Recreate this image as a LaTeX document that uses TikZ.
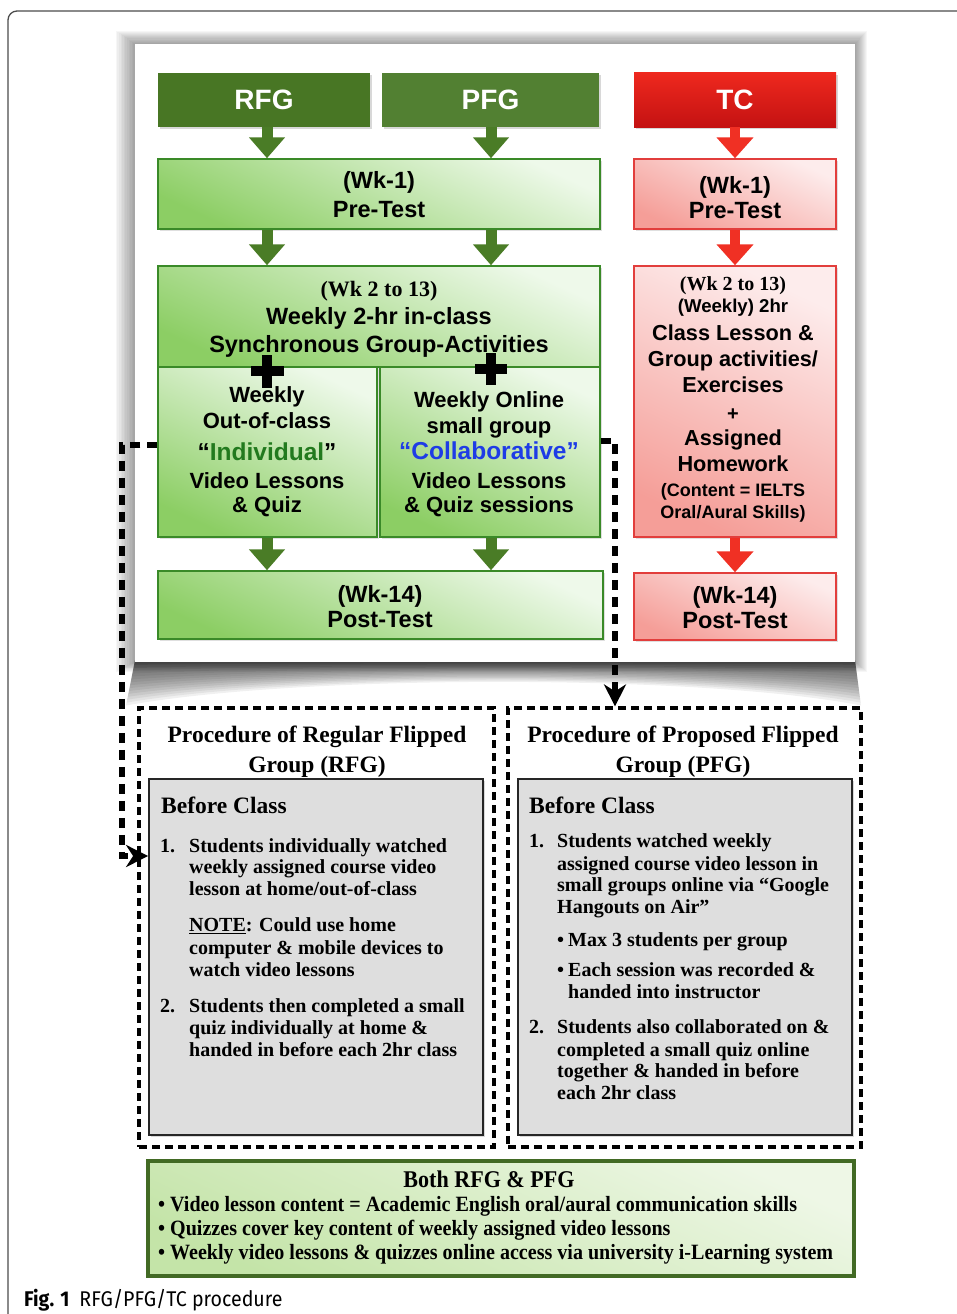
\documentclass[tikz,border=0pt]{standalone}
\usepackage{fontspec}
\setmainfont{Liberation Serif}
\setsansfont{Liberation Sans}
\newfontfamily\capfont[FakeStretch=0.92]{Fira Sans}
\newfontfamily\condserif[FakeStretch=0.92]{Liberation Serif}
\usetikzlibrary{arrows.meta,shadows}
\newcommand\SBf[1]{\fontsize{#1}{#1}\selectfont\sffamily\bfseries}
\newcommand\RBf[1]{\fontsize{#1}{#1}\selectfont\rmfamily\bfseries}
\definecolor{hdrgreen}{RGB}{72,118,36}
\definecolor{hdrgreenB}{RGB}{82,128,50}
\definecolor{arrgreen}{RGB}{74,124,38}
\definecolor{boxgreenD}{RGB}{140,206,100}
\definecolor{boxgreenL}{RGB}{238,249,234}
\definecolor{bordgreen}{RGB}{58,138,40}
\definecolor{tcred}{RGB}{238,40,30}
\definecolor{tcredD}{RGB}{196,18,18}
\definecolor{pinkL}{RGB}{253,236,236}
\definecolor{pinkD}{RGB}{245,158,152}
\definecolor{bordred}{RGB}{226,62,60}
\definecolor{arrred}{RGB}{240,48,36}
\definecolor{grayfill}{RGB}{222,222,222}
\definecolor{botgreenL}{RGB}{238,247,230}
\definecolor{botgreenD}{RGB}{196,228,168}
\definecolor{botbord}{RGB}{66,106,36}
\definecolor{indgreen}{RGB}{34,122,30}
\definecolor{colblue}{RGB}{30,60,230}
\begin{document}
\begin{tikzpicture}[x=1pt,y=-1pt,
  hdr/.style={inner sep=0pt, minimum height=54pt, text=white, font=\SBf{28},
    drop shadow={shadow xshift=1.5pt, shadow yshift=-2pt, opacity=0.3}},
  gbox/.style={draw=bordgreen, line width=1.5pt, top color=boxgreenL, bottom color=boxgreenD,
    shading angle=-25, inner sep=0pt,
    drop shadow={shadow xshift=1.5pt, shadow yshift=-1.5pt, opacity=0.25}},
  pbox/.style={draw=bordred, line width=1.5pt, top color=pinkL, bottom color=pinkD,
    shading angle=-25, inner sep=0pt,
    drop shadow={shadow xshift=1.5pt, shadow yshift=-1.5pt, opacity=0.25}},
  garrow/.style={draw=arrgreen, line width=11pt, -{Triangle[width=35pt,length=21pt]}},
  rarrow/.style={draw=arrred, line width=10pt, -{Triangle[width=36pt,length=21pt]}},
  stxt/.style={anchor=base, inner sep=0pt, font=\SBf{#1}},
  rtxt/.style={anchor=base, inner sep=0pt, font=\RBf{#1}},
  ltxt/.style={anchor=base west, inner sep=0pt, font=\RBf{#1}},
  dbox/.style={draw=black, line width=3.2pt, dash pattern=on 8pt off 5pt, inner sep=0pt},
  grbox/.style={draw=black!85, line width=1.8pt, fill=grayfill, inner sep=0pt,
    drop shadow={shadow xshift=1.5pt, shadow yshift=-1.5pt, opacity=0.3}},
  conn/.style={draw=black, line width=5.5pt, dash pattern=on 10pt off 7pt,
    -{Stealth[length=22pt,width=22pt,inset=7pt]}},
  btxt/.style={anchor=base west, inner sep=0pt, font=\fontsize{21.8}{21.8}\selectfont\condserif\bfseries}
]
\useasboundingbox (0,0) rectangle (956,1314);
% outer frame
\draw[black!70, line width=1.3pt, rounded corners=9pt] (8,1330) -- (8,11) -- (975,11);
% panel glow shadow
\foreach \i in {1,...,12}
  \fill[black, opacity=0.035] ({135-1.6*\i},{44-1.1*\i}) rectangle ({855+1.0*\i},{662+0.8*\i});
% curled bottom shadow
\foreach \i in {1,...,15}
  \fill[black, opacity=0.06] (135,660) -- (855,660) -- ({855+0.4*\i},{662+2.9*\i})
     .. controls (700,{662+0.8*\i}) and (300,{662+0.8*\i}) .. ({135-0.6*\i},{662+2.9*\i}) -- cycle;
% white panel
\fill[white] (135,44) rectangle (855,662);

% headers
\node[hdr, fill=hdrgreen, minimum width=212pt] (rfg) at (264,100) {RFG};
\node[hdr, fill=hdrgreenB, minimum width=217pt] (pfg) at (490.5,100) {PFG};
\node[hdr, top color=tcred, bottom color=tcredD, minimum width=202pt] (tc) at (735,100) {TC};

% green column boxes
\node[gbox, minimum width=442pt, minimum height=70pt] (preG) at (379,194) {};
\node[gbox, minimum width=442pt, minimum height=101pt] (wkG) at (379,316.5) {};
\node[gbox, minimum width=219pt, minimum height=170pt] (subL) at (267.5,452) {};
\node[gbox, minimum width=220pt, minimum height=170pt] (subR) at (490,452) {};
\node[gbox, minimum width=445pt, minimum height=68pt] (postG) at (380.5,605) {};
% TC column boxes
\node[pbox, minimum width=202pt, minimum height=70pt] (preT) at (735,194) {};
\node[pbox, minimum width=202pt, minimum height=271pt] (wkT) at (735,401.5) {};
\node[pbox, minimum width=202pt, minimum height=67pt] (postT) at (735,606.5) {};

% block arrows
\draw[garrow] (rfg.south -| 267,0) -- (preG.north -| 267,0);
\draw[garrow] (pfg.south -| 491,0) -- (preG.north -| 491,0);
\draw[garrow] (preG.south -| 267,0) -- (wkG.north -| 267,0);
\draw[garrow] (preG.south -| 491,0) -- (wkG.north -| 491,0);
\draw[garrow] (subL.south -| 267,0) -- (postG.north -| 267,0);
\draw[garrow] (subR.south -| 491,0) -- (postG.north -| 491,0);
\draw[rarrow] (tc.south -| 735,0) -- (preT.north -| 735,0);
\draw[rarrow] (preT.south -| 735,0) -- (wkT.north -| 735,0);
\draw[rarrow] (wkT.south -| 735,0) -- (postT.north -| 735,0);

% plus signs
\fill (251,366) rectangle (284,376);
\fill (262,355) rectangle (272,388);
\fill (475,364) rectangle (507,374);
\fill (486,353) rectangle (496,385);

% texts green column
\node[stxt=23.5] (tpg1) at (379,188) {(Wk-1)};
\node[stxt=23.5] (tpg2) at (379,217) {Pre-Test};
\node[rtxt=22] (twg1) at (379,296) {(Wk 2 to 13)};
\node[stxt=23.5] (twg2) at (379,324) {Weekly 2-hr in-class};
\node[stxt=23.5] (twg3) at (379,352) {Synchronous Group-Activities};
\node[stxt=22] (tsl1) at (267,402) {Weekly};
\node[stxt=22] (tsl2) at (267,428) {Out-of-class};
\node[stxt=24.5] (tsl3) at (267,460) {“\textcolor{indgreen}{Individual}”};
\node[stxt=22] (tsl4) at (267,488) {Video Lessons};
\node[stxt=22] (tsl5) at (267,512) {\& Quiz};
\node[stxt=22] (tsr1) at (489,407) {Weekly Online};
\node[stxt=22] (tsr2) at (489,433) {small group};
\node[stxt=24.5, text=colblue] (tsr3) at (489,459) {“Collaborative”};
\node[stxt=22] (tsr4) at (489,488) {Video Lessons};
\node[stxt=22] (tsr5) at (489,512) {\& Quiz sessions};
\node[stxt=23.5] (tpo1) at (380,602) {(Wk-14)};
\node[stxt=23.5] (tpo2) at (380,627) {Post-Test};
% texts TC column
\node[stxt=23.5] (ttp1) at (735,193) {(Wk-1)};
\node[stxt=23.5] (ttp2) at (735,218) {Pre-Test};
\node[rtxt=20] (ttw1) at (733,290) {(Wk 2 to 13)};
\node[stxt=18.6] (ttw2) at (733,312) {(Weekly) 2hr};
\node[stxt=21.7] (ttw3) at (733,340) {Class Lesson \&};
\node[stxt=21.7] (ttw4) at (733,366) {Group activities/};
\node[stxt=21.7] (ttw5) at (733,392) {Exercises};
\node[stxt=20] (ttw6) at (733,420) {+};
\node[stxt=21.7] (ttw7) at (733,445) {Assigned};
\node[stxt=21.7] (ttw8) at (733,471) {Homework};
\node[stxt=18] (ttw9) at (733,496) {(Content = IELTS};
\node[stxt=18] (ttw10) at (733,518) {Oral/Aural Skills)};
\node[stxt=23.5] (ttq1) at (735,603) {(Wk-14)};
\node[stxt=23.5] (ttq2) at (735,628) {Post-Test};

% procedure boxes
\node[dbox, minimum width=355pt, minimum height=439pt] (dboxL) at (316.5,927.5) {};
\node[dbox, minimum width=353pt, minimum height=439pt] (dboxR) at (684.5,927.5) {};
\node[grbox, minimum width=334pt, minimum height=356pt] (grayL) at (316,957) {};
\node[grbox, minimum width=334pt, minimum height=356pt] (grayR) at (685,957) {};

\node[rtxt=23.5] (pl1) at (317,742) {Procedure of Regular Flipped};
\node[rtxt=23.5] (pl2) at (317,772) {Group (RFG)};
\node[rtxt=23.5] (pr1) at (683,742) {Procedure of Proposed Flipped};
\node[rtxt=23.5] (pr2) at (683,772) {Group (PFG)};

\node[ltxt=23.5] (bl0) at (161,813) {Before Class};
\node[ltxt=20] (bln1) at (160,852) {1.};
\node[ltxt=20] (bl1) at (189,852) {Students individually watched};
\node[ltxt=20] (bl2) at (189,873.5) {weekly assigned course video};
\node[ltxt=20] (bl3) at (189,895) {lesson at home/out-of-class};
\node[ltxt=20] (bl4) at (189,931.5) {\underline{NOTE}: Could use home};
\node[ltxt=20] (bl5) at (189,954) {computer \& mobile devices to};
\node[ltxt=20] (bl6) at (189,976) {watch video lessons};
\node[ltxt=20] (bln2) at (160,1012) {2.};
\node[ltxt=20] (bl7) at (189,1012) {Students then completed a small};
\node[ltxt=20] (bl8) at (189,1034) {quiz individually at home \&};
\node[ltxt=20] (bl9) at (189,1056) {handed in before each 2hr class};

\node[ltxt=23.5] (br0) at (529,813) {Before Class};
\node[ltxt=20] (brn1) at (529,847) {1.};
\node[ltxt=20] (br1) at (557,847) {Students watched weekly};
\node[ltxt=20] (br2) at (557,870) {assigned course video lesson in};
\node[ltxt=20] (br3) at (557,891.7) {small groups online via “Google};
\node[ltxt=20] (br4) at (557,913.3) {Hangouts on Air”};
\node[ltxt=20] (brb1) at (557,946.7) {•};
\node[ltxt=20] (br5) at (568,946.7) {Max 3 students per group};
\node[ltxt=20] (brb2) at (557,976.7) {•};
\node[ltxt=20] (br6) at (568,976.7) {Each session was recorded \&};
\node[ltxt=20] (br7) at (568,998.3) {handed into instructor};
\node[ltxt=20] (brn2) at (529,1033.3) {2.};
\node[ltxt=20] (br8) at (557,1033.3) {Students also collaborated on \&};
\node[ltxt=20] (br9) at (557,1056) {completed a small quiz online};
\node[ltxt=20] (br10) at (557,1077.7) {together \& handed in before};
\node[ltxt=20] (br11) at (557,1099.3) {each 2hr class};

% dashed connectors
\draw[conn] ([yshift=7pt]subL.west) -| (122,856) -- (grayL.west |- 0,856);
\draw[conn] ([yshift=11pt]subR.east) -| (dboxR.north -| 615,0);

% bottom box
\node[draw=botbord, line width=3.5pt, top color=botgreenL, bottom color=botgreenD,
  shading angle=-25, inner sep=0pt, minimum width=706pt, minimum height=115pt,
  drop shadow={shadow xshift=1.5pt, shadow yshift=-1.5pt, opacity=0.25}] (both) at (501,1218.5) {};
\node[anchor=base, inner sep=0pt, font=\fontsize{24}{24}\selectfont\condserif\bfseries] (bt0) at (489,1187) {Both RFG \& PFG};
\node[btxt] (bt1) at (158,1211) {• Video lesson content = Academic English oral/aural communication skills};
\node[btxt] (bt2) at (158,1235) {• Quizzes cover key content of weekly assigned video lessons};
\node[btxt] (bt3) at (158,1259) {• Weekly video lessons \& quizzes online access via university i-Learning system};

% caption
\node[anchor=base west, inner sep=0pt, font=\fontsize{21.3}{21.3}\selectfont\capfont] (cap) at (24,1306) {\textbf{Fig. 1}\hspace{10pt}RFG/PFG/TC procedure};
\end{tikzpicture}
\end{document}
